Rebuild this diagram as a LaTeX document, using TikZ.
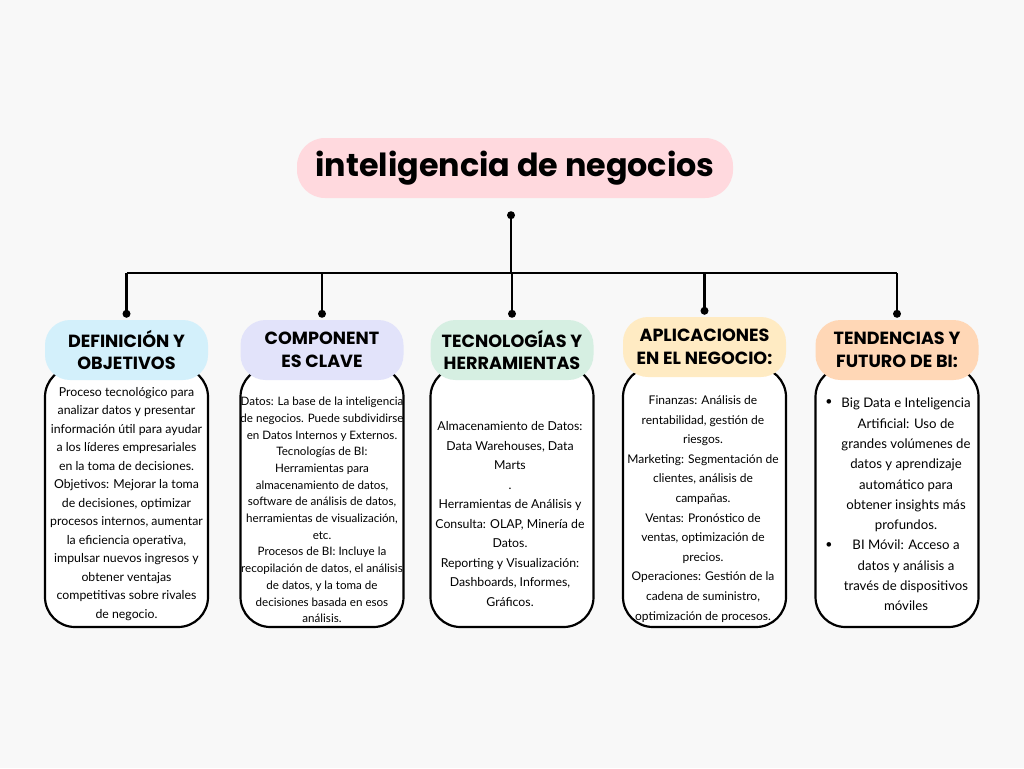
\documentclass[tikz,border=0pt]{standalone}
\usepackage{fontspec}
\setmainfont{Lato}
\newfontfamily\headfont{Poppins}
\definecolor{paper}{RGB}{248,248,248}
\definecolor{blush}{RGB}{255,217,222}
\definecolor{skyblue}{RGB}{211,240,251}
\definecolor{lavender}{RGB}{226,227,250}
\definecolor{mint}{RGB}{214,239,226}
\definecolor{butter}{RGB}{255,235,195}
\definecolor{peach}{RGB}{255,215,182}
\usetikzlibrary{shapes,arrows,positioning,calc,fit,backgrounds}

\tikzset{
    hdr/.style={rounded corners=25pt, minimum width=163pt, minimum height=60pt, inner sep=0pt, align=center, font=\headfont\bfseries\fontsize{17.6}{22.5}\selectfont},
    bodybox/.style={draw=black, fill=white, line width=2.2pt, rounded corners=30pt, minimum width=163pt, minimum height=260pt},
    bodytext/.style={align=center, inner sep=0pt, font=\fontsize{12.3}{19.5}\selectfont},
    wire/.style={line width=2.2pt}
}

\begin{document}
\begin{tikzpicture}[x=1pt, y=-1pt]
            \fill[paper] (0,0) rectangle (1024,768);
            \useasboundingbox (0,0) rectangle (1024,768);

            \node[rounded corners=28pt, fill=blush, minimum width=436pt, minimum height=60pt, font=\headfont\bfseries\fontsize{31.8}{36}\selectfont] (title) at (515,168) {inteligencia de negocios};

            \node[bodybox] (bodyA) at (126.5,497) {};
            \node[bodybox] (bodyB) at (322,497) {};
            \node[bodybox] (bodyC) at (512,497) {};
            \node[bodybox] (bodyD) at (704.5,497) {};
            \node[bodybox] (bodyE) at (897,497) {};

            \node[hdr, fill=skyblue] (hdrA) at (126.5,350) {DEFINICIÓN Y\\OBJETIVOS};
            \node[hdr, fill=lavender] (hdrB) at (322,350) {COMPONENT\\ES CLAVE};
            \node[hdr, fill=mint] (hdrC) at (512,350) {TECNOLOGÍAS Y\\HERRAMIENTAS};
            \node[hdr, fill=butter] (hdrD) at (704.5,347) {APLICACIONES\\EN EL NEGOCIO:};
            \node[hdr, fill=peach] (hdrE) at (897,350) {TENDENCIAS Y\\FUTURO DE BI:};

            \node[bodytext, font=\fontsize{12.3}{18.5}\selectfont] (txtA) at (126.5,504) {Proceso tecnológico para\\analizar datos y presentar\\información útil para ayudar\\a los líderes empresariales\\en la toma de decisiones.\\Objetivos: Mejorar la toma\\de decisiones, optimizar\\procesos internos, aumentar\\la eficiencia operativa,\\impulsar nuevos ingresos y\\obtener ventajas\\competitivas sobre rivales\\de negocio.};
            \node[bodytext, font=\fontsize{11.6}{16.7}\selectfont] (txtB) at (322,510) {Datos: La base de la inteligencia\\de negocios. Puede subdividirse\\en Datos Internos y Externos.\\Tecnologías de BI:\\Herramientas para\\almacenamiento de datos,\\software de análisis de datos,\\herramientas de visualización,\\etc.\\Procesos de BI: Incluye la\\recopilación de datos, el análisis\\de datos, y la toma de\\decisiones basada en esos\\análisis.};
            \node[bodytext] (txtC) at (510,514) {Almacenamiento de Datos:\\Data Warehouses, Data\\Marts\\.\\Herramientas de Análisis y\\Consulta: OLAP, Minería de\\Datos.\\Reporting y Visualización:\\Dashboards, Informes,\\Gráficos.};
            \node[bodytext, font=\fontsize{12}{19.6}\selectfont] (txtD) at (703,509) {Finanzas: Análisis de\\rentabilidad, gestión de\\riesgos.\\Marketing: Segmentación de\\clientes, análisis de\\campañas.\\Ventas: Pronóstico de\\ventas, optimización de\\precios.\\Operaciones: Gestión de la\\cadena de suministro,\\optimización de procesos.};
            \node[bodytext, font=\fontsize{13.2}{20.3}\selectfont] (txtE) at (906,504.5) {Big Data e Inteligencia\\Artificial: Uso de\\grandes volúmenes de\\datos y aprendizaje\\automático para\\obtener insights más\\profundos.\\BI Móvil: Acceso a\\datos y análisis a\\través de dispositivos\\móviles};
            \node[bodytext] (bulA) at (829,403) {\textbullet};
            \node[bodytext] (bulB) at (829,546) {\textbullet};

            \coordinate (top) at ([xshift=-4pt, yshift=-17pt]title.south);
            \coordinate (bus) at ([yshift=-58pt]top);
            \foreach \k in {A,B,C,D,E} \coordinate (d\k) at ([yshift=6pt]hdr\k.north);
            \draw[wire] (top) -- (bus);
            \draw[wire] (dA |- bus) -- (dE |- bus);
            \foreach \k in {A,B,C,D,E} {
                \draw[wire] (d\k |- bus) -- (d\k);
                \fill (d\k) circle (4pt);
            }
            \fill (top) circle (4pt);
        \end{tikzpicture}
\end{document}
